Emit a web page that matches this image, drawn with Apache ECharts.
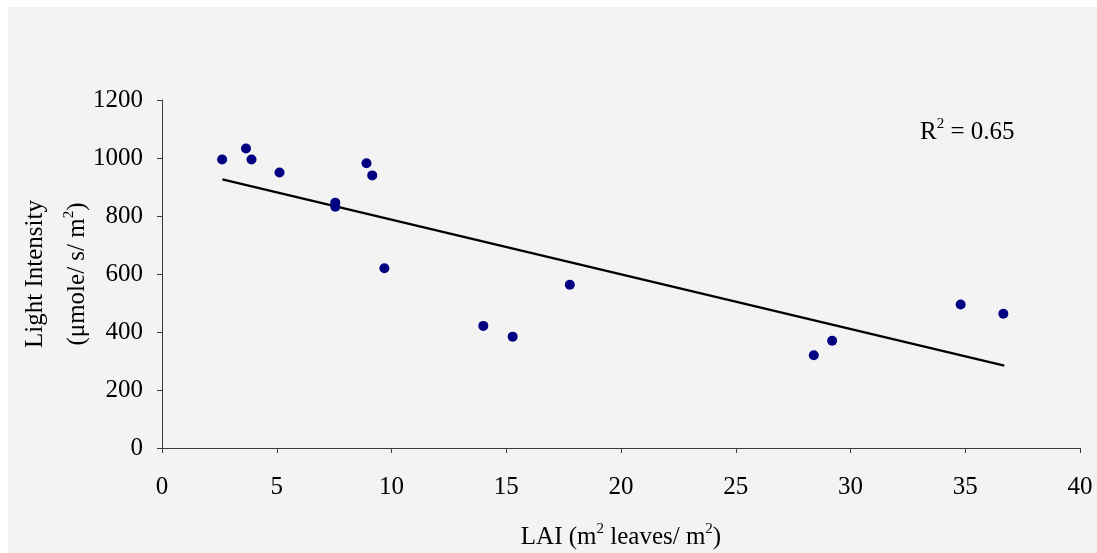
<!DOCTYPE html>
<html>
<head>
<meta charset="utf-8">
<script src="https://cdn.jsdelivr.net/npm/echarts@6/dist/echarts.min.js"></script>
<style>
  body { margin: 7px 0 0 8px; background: #fff; }
  #chart { width: 1089px; height: 546px; background: #f3f3f3; }
</style>
</head>
<body>
<div id="chart"></div>
<script>
// LAI (m2 leaves / m2) vs light intensity
var lai = [2.62, 3.66, 3.90, 5.12, 7.55, 7.55, 8.91, 9.16, 9.69, 14.0, 15.28, 17.77, 28.4, 29.2, 34.8, 36.66];
var light = [995, 1033, 995, 950, 846, 832, 982, 940, 620, 421, 384, 563, 320, 370, 495, 463];
// trend line ends as drawn
var trendX = [2.63, 36.7];
var trendY = [926, 284];
var xTicks = { min: 0, max: 40, interval: 5 };
var yTicks = { min: 0, max: 1200, interval: 200 };

var pts = [];
for (var i = 0; i < lai.length; i++) {
  pts.push([lai[i], light[i]]);
}
var trend = [[trendX[0], trendY[0]], [trendX[1], trendY[1]]];

var font = 'Liberation Serif';
var axisCol = '#3a3a3a';
// superscript "2"
var sup = { fontSize: 15, fontFamily: font, color: '#000', verticalAlign: 'top', lineHeight: 30 };
var norm = { fontSize: 25, fontFamily: font, color: '#000', lineHeight: 30 };

var myChart = echarts.init(document.getElementById('chart'));
var option = {
  backgroundColor: '#f3f3f3',
  animation: false,
  grid: { left: 154, right: 17, top: 93, bottom: 105, outerBoundsMode: 'none', containLabel: false },
  xAxis: {
    type: 'value',
    min: xTicks.min, max: xTicks.max, interval: xTicks.interval,
    splitLine: { show: false },
    axisLine: { lineStyle: { color: axisCol, width: 1 } },
    axisTick: { inside: false, length: 5, lineStyle: { color: axisCol } },
    axisLabel: { color: '#000', fontFamily: font, fontSize: 25, margin: 27 },
    name: '{a|LAI (m}{s|2}{a| leaves/ m}{s|2}{a|)}',
    nameLocation: 'middle',
    nameGap: 74,
    nameMoveOverlap: false,
    nameTextStyle: { color: '#000', fontFamily: font, fontSize: 25, rich: { a: norm, s: sup } }
  },
  yAxis: {
    type: 'value',
    min: yTicks.min, max: yTicks.max, interval: yTicks.interval,
    splitLine: { show: false },
    axisLine: { show: true, lineStyle: { color: axisCol, width: 1 } },
    axisTick: { show: true, inside: false, length: 5, lineStyle: { color: axisCol } },
    axisLabel: { color: '#000', fontFamily: font, fontSize: 25, margin: 19, formatter: function (v) { return String(v); } },
    name: '{b|Light Intensity}\n{b|(μmole/ s/ m}{t|2}{b|)}',
    nameLocation: 'middle',
    nameRotate: 90,
    nameGap: 64,
    nameMoveOverlap: false,
    nameTextStyle: {
      color: '#000', fontFamily: font, fontSize: 25,
      rich: {
        b: { fontSize: 25, fontFamily: font, color: '#000', lineHeight: 42 },
        t: { fontSize: 15, fontFamily: font, color: '#000', lineHeight: 42, verticalAlign: 'top', padding: [6, 0, 0, 0] }
      }
    }
  },
  graphic: [{
    type: 'text',
    left: 912,
    top: 110,
    style: {
      text: '{a|R}{s|2}{a| = 0.65}',
      rich: { a: norm, s: sup }
    }
  }],
  series: [
    {
      type: 'line',
      data: trend,
      symbol: 'none',
      lineStyle: { color: '#000', width: 2.3 },
      z: 2
    },
    {
      type: 'scatter',
      data: pts,
      symbolSize: 10,
      itemStyle: { color: '#000080', opacity: 1 },
      z: 3
    }
  ]
};
myChart.setOption(option);
window.onresize = function () {
  myChart.resize();
};
</script>
</body>
</html>
